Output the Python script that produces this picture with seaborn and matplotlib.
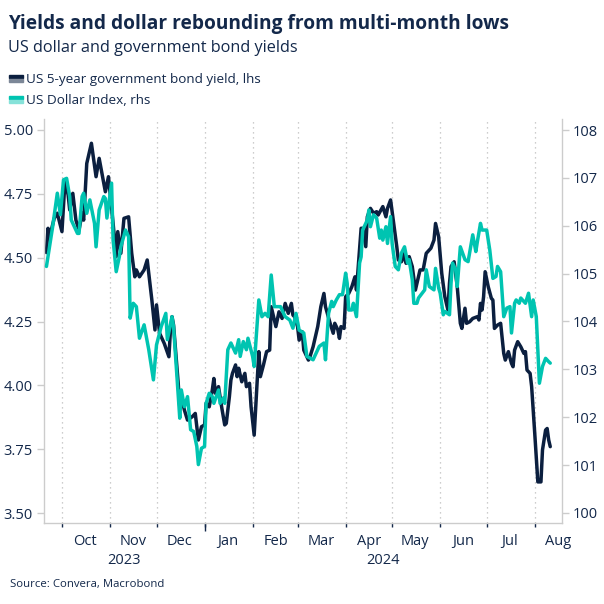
import matplotlib
matplotlib.use("Agg")
import matplotlib.pyplot as plt
import matplotlib.dates as mdates
from matplotlib.patches import Rectangle
from matplotlib.ticker import FormatStrFormatter
from matplotlib.transforms import blended_transform_factory
import seaborn as sns
import pandas as pd

# ---------------- text ----------------
title = "Yields and dollar rebounding from multi-month lows"
subtitle = "US dollar and government bond yields"
legend_labels = ["US 5-year government bond yield, lhs", "US Dollar Index, rhs"]
source = "Source: Convera, Macrobond"
year_labels = ["2023", "2024"]
left_ticks = [3.50, 3.75, 4.00, 4.25, 4.50, 4.75, 5.00]
right_ticks = [100, 101, 102, 103, 104, 105, 106, 107, 108]

# ---------------- data ----------------
yield_dates = [
    "2023-09-21", "2023-09-22", "2023-09-23", "2023-09-26", "2023-09-28",
    "2023-10-01", "2023-10-03", "2023-10-05", "2023-10-06", "2023-10-08",
    "2023-10-10", "2023-10-12", "2023-10-14", "2023-10-15", "2023-10-17",
    "2023-10-20", "2023-10-23", "2023-10-25", "2023-10-28", "2023-10-29",
    "2023-10-31", "2023-11-03", "2023-11-05", "2023-11-06", "2023-11-08",
    "2023-11-10", "2023-11-13", "2023-11-15", "2023-11-17", "2023-11-18",
    "2023-11-20", "2023-11-23", "2023-11-25", "2023-11-28", "2023-11-30",
    "2023-12-01", "2023-12-03", "2023-12-06", "2023-12-09", "2023-12-10",
    "2023-12-11", "2023-12-12", "2023-12-15", "2023-12-16", "2023-12-17",
    "2023-12-19", "2023-12-21", "2023-12-24", "2023-12-26", "2023-12-28",
    "2023-12-30", "2024-01-01", "2024-01-02", "2024-01-04", "2024-01-06",
    "2024-01-07", "2024-01-08", "2024-01-10", "2024-01-12", "2024-01-14",
    "2024-01-15", "2024-01-17", "2024-01-18", "2024-01-19", "2024-01-21",
    "2024-01-22", "2024-01-23", "2024-01-25", "2024-01-27", "2024-01-28",
    "2024-01-30", "2024-01-31", "2024-02-02", "2024-02-04", "2024-02-05",
    "2024-02-06", "2024-02-08", "2024-02-10", "2024-02-12", "2024-02-13",
    "2024-02-16", "2024-02-18", "2024-02-20", "2024-02-22", "2024-02-24",
    "2024-02-26", "2024-02-27", "2024-02-28", "2024-03-01", "2024-03-02",
    "2024-03-04", "2024-03-05", "2024-03-08", "2024-03-09", "2024-03-11",
    "2024-03-14", "2024-03-16", "2024-03-18", "2024-03-19", "2024-03-22",
    "2024-03-24", "2024-03-25", "2024-03-27", "2024-03-28", "2024-03-29",
    "2024-03-31", "2024-04-01", "2024-04-03", "2024-04-05", "2024-04-07",
    "2024-04-08", "2024-04-09", "2024-04-11", "2024-04-12", "2024-04-14",
    "2024-04-15", "2024-04-17", "2024-04-19", "2024-04-21", "2024-04-22",
    "2024-04-25", "2024-04-27", "2024-04-28", "2024-04-30", "2024-05-02",
    "2024-05-04", "2024-05-05", "2024-05-07", "2024-05-08", "2024-05-10",
    "2024-05-12", "2024-05-14", "2024-05-16", "2024-05-19", "2024-05-21",
    "2024-05-23", "2024-05-25", "2024-05-26", "2024-05-28", "2024-05-29",
    "2024-05-31", "2024-06-02", "2024-06-04", "2024-06-06", "2024-06-07",
    "2024-06-08", "2024-06-10", "2024-06-12", "2024-06-14", "2024-06-15",
    "2024-06-17", "2024-06-18", "2024-06-20", "2024-06-22", "2024-06-25",
    "2024-06-26", "2024-06-27", "2024-06-28", "2024-06-29", "2024-06-30",
    "2024-07-02", "2024-07-04", "2024-07-05", "2024-07-06", "2024-07-08",
    "2024-07-10", "2024-07-12", "2024-07-13", "2024-07-15", "2024-07-17",
    "2024-07-18", "2024-07-19", "2024-07-21", "2024-07-23", "2024-07-25",
    "2024-07-26", "2024-07-27", "2024-07-29", "2024-07-30", "2024-08-01",
    "2024-08-03", "2024-08-05", "2024-08-06", "2024-08-08", "2024-08-09",
    "2024-08-10", "2024-08-11",
]
yield_vals = [
    4.52, 4.615, 4.58, 4.654, 4.674,
    4.602, 4.804, 4.745, 4.687, 4.752,
    4.647, 4.608, 4.674, 4.647, 4.869,
    4.948, 4.817, 4.889, 4.791, 4.758,
    4.817, 4.634, 4.504, 4.602, 4.517,
    4.654, 4.660, 4.517, 4.425, 4.452,
    4.425, 4.452, 4.491, 4.334, 4.217,
    4.315, 4.204, 4.164, 4.112, 4.217,
    4.269, 4.236, 4.008, 3.916, 3.955,
    3.903, 3.864, 3.877, 3.890, 3.786,
    3.838, 3.845, 3.930, 3.916, 3.982,
    4.027, 3.969, 3.995, 3.916, 3.845,
    3.851, 3.955, 4.021, 4.047, 4.080,
    4.034, 4.067, 4.014, 4.047, 3.995,
    4.008, 3.916, 3.805, 4.021, 4.132,
    4.034, 4.080, 4.132, 4.138, 4.308,
    4.230, 4.288, 4.262, 4.321, 4.282,
    4.321, 4.275, 4.269, 4.230, 4.177,
    4.210, 4.138, 4.099, 4.112, 4.151,
    4.230, 4.308, 4.360, 4.308, 4.243,
    4.204, 4.243, 4.217, 4.184, 4.230,
    4.223, 4.347, 4.360, 4.386, 4.425,
    4.373, 4.452, 4.615, 4.615, 4.543,
    4.660, 4.693, 4.674, 4.680, 4.667,
    4.700, 4.660, 4.693, 4.726, 4.634,
    4.543, 4.491, 4.484, 4.517, 4.478,
    4.504, 4.465, 4.373, 4.452, 4.452,
    4.517, 4.530, 4.537, 4.569, 4.634,
    4.582, 4.439, 4.347, 4.295, 4.400,
    4.465, 4.484, 4.386, 4.243, 4.223,
    4.302, 4.243, 4.249, 4.262, 4.269,
    4.256, 4.321, 4.295, 4.347, 4.445,
    4.386, 4.341, 4.334, 4.223, 4.236,
    4.243, 4.125, 4.099, 4.132, 4.086,
    4.073, 4.138, 4.171, 4.151, 4.125,
    4.132, 4.060, 4.047, 3.995, 3.812,
    3.622, 3.622, 3.747, 3.825, 3.831,
    3.786, 3.760,
]

usd_dates = [
    "2023-09-21", "2023-09-25", "2023-09-28", "2023-09-30", "2023-10-02",
    "2023-10-04", "2023-10-06", "2023-10-07", "2023-10-08", "2023-10-11",
    "2023-10-12", "2023-10-14", "2023-10-15", "2023-10-17", "2023-10-19",
    "2023-10-22", "2023-10-23", "2023-10-25", "2023-10-28", "2023-10-29",
    "2023-10-30", "2023-11-02", "2023-11-03", "2023-11-05", "2023-11-07",
    "2023-11-08", "2023-11-11", "2023-11-13", "2023-11-14", "2023-11-16",
    "2023-11-18", "2023-11-20", "2023-11-23", "2023-11-26", "2023-11-29",
    "2023-12-01", "2023-12-04", "2023-12-07", "2023-12-08", "2023-12-11",
    "2023-12-12", "2023-12-14", "2023-12-16", "2023-12-17", "2023-12-19",
    "2023-12-21", "2023-12-23", "2023-12-25", "2023-12-27", "2023-12-28",
    "2023-12-30", "2024-01-01", "2024-01-02", "2024-01-04", "2024-01-06",
    "2024-01-07", "2024-01-10", "2024-01-11", "2024-01-13", "2024-01-14",
    "2024-01-16", "2024-01-18", "2024-01-21", "2024-01-23", "2024-01-24",
    "2024-01-26", "2024-01-28", "2024-01-29", "2024-02-01", "2024-02-02",
    "2024-02-05", "2024-02-07", "2024-02-09", "2024-02-11", "2024-02-13",
    "2024-02-15", "2024-02-19", "2024-02-22", "2024-02-25", "2024-02-27",
    "2024-02-29", "2024-03-02", "2024-03-05", "2024-03-07", "2024-03-11",
    "2024-03-15", "2024-03-18", "2024-03-19", "2024-03-20", "2024-03-21",
    "2024-03-23", "2024-03-24", "2024-03-26", "2024-03-28", "2024-03-30",
    "2024-04-01", "2024-04-02", "2024-04-03", "2024-04-05", "2024-04-06",
    "2024-04-08", "2024-04-10", "2024-04-11", "2024-04-12", "2024-04-15",
    "2024-04-16", "2024-04-17", "2024-04-19", "2024-04-21", "2024-04-23",
    "2024-04-24", "2024-04-25", "2024-04-27", "2024-04-28", "2024-04-30",
    "2024-05-01", "2024-05-03", "2024-05-05", "2024-05-07", "2024-05-09",
    "2024-05-11", "2024-05-12", "2024-05-14", "2024-05-15", "2024-05-17",
    "2024-05-18", "2024-05-22", "2024-05-23", "2024-05-25", "2024-05-28",
    "2024-05-29", "2024-05-31", "2024-06-01", "2024-06-03", "2024-06-04",
    "2024-06-07", "2024-06-08", "2024-06-09", "2024-06-11", "2024-06-12",
    "2024-06-14", "2024-06-17", "2024-06-19", "2024-06-21", "2024-06-22",
    "2024-06-24", "2024-06-25", "2024-06-27", "2024-06-28", "2024-07-01",
    "2024-07-03", "2024-07-05", "2024-07-07", "2024-07-08", "2024-07-10",
    "2024-07-12", "2024-07-14", "2024-07-16", "2024-07-17", "2024-07-19",
    "2024-07-20", "2024-07-22", "2024-07-23", "2024-07-26", "2024-07-28",
    "2024-07-30", "2024-07-31", "2024-08-02", "2024-08-04", "2024-08-06",
    "2024-08-08", "2024-08-10", "2024-08-11",
]
usd_vals = [
    105.15, 105.98, 106.68, 106.23, 106.96,
    106.99, 106.61, 106.12, 106.05, 105.84,
    105.84, 106.61, 106.68, 106.26, 106.54,
    106.05, 105.56, 106.33, 106.61, 106.57,
    106.16, 106.89, 105.70, 105.04, 105.35,
    105.56, 105.91, 105.77, 104.07, 104.38,
    104.31, 103.65, 103.93, 103.41, 102.78,
    103.51, 103.89, 104.17, 103.62, 104.10,
    103.89, 102.92, 101.98, 102.57, 102.22,
    102.43, 101.74, 101.70, 101.39, 101.01,
    101.35, 101.39, 102.29, 102.50, 102.43,
    102.29, 102.57, 102.29, 102.40, 102.29,
    103.41, 103.55, 103.34, 103.62, 103.27,
    103.58, 103.41, 103.65, 103.27, 103.06,
    104.45, 104.10, 104.17, 104.10, 104.97,
    104.31, 104.31, 104.10, 104.03, 103.86,
    104.17, 103.82, 103.76, 103.27, 103.20,
    103.48, 103.55, 103.20, 103.69, 104.17,
    104.42, 104.31, 104.45, 104.56, 104.56,
    105.01, 104.80, 104.24, 104.24, 104.38,
    104.10, 105.22, 105.35, 105.91, 106.12,
    106.33, 105.98, 106.23, 106.16, 105.74,
    105.91, 105.70, 105.98, 105.63, 106.19,
    105.63, 105.15, 105.08, 105.43, 105.56,
    105.22, 105.29, 104.87, 104.38, 104.38,
    104.49, 104.66, 105.08, 104.73, 104.66,
    105.11, 104.70, 104.59, 104.14, 104.21,
    104.14, 104.80, 105.22, 105.08, 104.73,
    105.56, 105.29, 105.25, 105.63, 105.81,
    105.46, 105.67, 106.05, 105.91, 105.91,
    105.49, 104.90, 104.94, 105.15, 105.04,
    104.10, 104.28, 104.31, 103.76, 104.38,
    104.45, 104.38, 104.49, 104.38, 104.59,
    104.10, 104.45, 104.10, 102.71, 103.06,
    103.23, 103.16, 103.13,
]

x_start = "2023-09-19 10:00"
x_end = "2024-08-18 14:00"

# ---------------- style ----------------
sns.set_theme(style="white")
plt.rcParams["font.family"] = ["Open Sans", "DejaVu Sans"]

NAVY = "#0b1f3f"
NAVY_LIGHT = "#7c8797"
TEAL = "#00c4b1"
TEAL_LIGHT = "#86e2d9"
TXT = "#13284a"
SPINE = "#cccccc"
GRIDC = "#bdbdbd"

W = H = 604
fig = plt.figure(figsize=(6.04, 6.04), dpi=100)
fig.patch.set_facecolor("white")
ax = fig.add_axes([44 / W, (H - 523) / H, 518 / W, 404 / H])
ax2 = ax.twinx()

df_yield = pd.DataFrame({"date": pd.to_datetime(yield_dates), "value": yield_vals})
df_usd = pd.DataFrame({"date": pd.to_datetime(usd_dates), "value": usd_vals})

sns.lineplot(data=df_yield, x="date", y="value", ax=ax, color=NAVY,
             linewidth=2.5, solid_joinstyle="round", solid_capstyle="round")
sns.lineplot(data=df_usd, x="date", y="value", ax=ax2, color=TEAL,
             linewidth=2.5, solid_joinstyle="round", solid_capstyle="round")

xmin, xmax = pd.Timestamp(x_start), pd.Timestamp(x_end)
ax.set_xlim(xmin, xmax)
ax.set_ylim(3.461, 5.043)
ax2.set_ylim(99.79, 108.23)
for a in (ax, ax2):
    a.set_xlabel("")
    a.set_ylabel("")

# spines
for s in ("top", "right"):
    ax.spines[s].set_visible(False)
for s in ("left", "bottom"):
    ax.spines[s].set_color(SPINE)
    ax.spines[s].set_linewidth(1.0)
for s in ("top", "left", "bottom"):
    ax2.spines[s].set_visible(False)
ax2.spines["right"].set_color(SPINE)
ax2.spines["right"].set_linewidth(1.0)

# y ticks
ax.set_yticks(left_ticks)
ax.yaxis.set_major_formatter(FormatStrFormatter("%.2f"))
ax.tick_params(axis="y", left=True, length=5, width=1, color=SPINE,
               labelcolor=TXT, labelsize=10.5, pad=3)
ax2.set_yticks(right_ticks)
ax2.tick_params(axis="y", right=True, length=5, width=1, color=SPINE,
                labelcolor=TXT, labelsize=10.5, pad=3)

# x ticks: month starts (ticks + dotted grid), month labels mid-month
ax.xaxis.set_major_locator(mdates.MonthLocator())
ax.xaxis.set_major_formatter(plt.NullFormatter())
ax.xaxis.set_minor_locator(mdates.MonthLocator(bymonthday=16))
ax.xaxis.set_minor_formatter(mdates.DateFormatter("%b"))
ax.tick_params(axis="x", which="major", bottom=True, length=3, width=1,
               color=TXT)
ax.tick_params(axis="x", which="minor", bottom=True, length=0,
               labelcolor=TXT, labelsize=10.5, pad=8)
ax.grid(True, which="major", axis="x", color=GRIDC, linestyle=(0, (1, 3)),
        linewidth=0.9)
ax.grid(False, axis="y")
ax2.grid(False)

# longer tick at year boundary
sec = ax.secondary_xaxis("bottom")
sec.xaxis.set_major_locator(mdates.YearLocator())
sec.xaxis.set_major_formatter(plt.NullFormatter())
sec.tick_params(axis="x", length=6, width=1, color=TXT)
sec.spines["bottom"].set_visible(False)

# year labels centred on their spans
trans = blended_transform_factory(ax.transData, ax.transAxes)
jan1 = pd.Timestamp("2024-01-01")
year_spans = [(xmin, jan1), (jan1, xmax)]
for lab, (a0, a1) in zip(year_labels, year_spans):
    mid = mdates.date2num(a0) + (mdates.date2num(a1) - mdates.date2num(a0)) / 2
    ax.text(mid, -0.094, lab, transform=trans, ha="center", va="center",
            fontsize=10.5, color=TXT)

# titles
fig.text(8 / W, 1 - 29 / H, title, fontsize=13.8, fontweight="bold",
         color=TXT, ha="left", va="baseline")
fig.text(8 / W, 1 - 52 / H, subtitle, fontsize=11.7, color=TXT,
         ha="left", va="baseline")

# legend (two-tone swatches)
legend_cols = [(NAVY, NAVY_LIGHT), (TEAL, TEAL_LIGHT)]
for i, (lab, (c1, c2)) in enumerate(zip(legend_labels, legend_cols)):
    yc = 79 + 21 * i
    fig.patches.append(Rectangle((9 / W, 1 - (yc - 1) / H), 14 / W, 3 / H,
                                 transform=fig.transFigure, color=c1))
    fig.patches.append(Rectangle((9 / W, 1 - (yc + 3) / H), 14 / W, 3 / H,
                                 transform=fig.transFigure, color=c2))
    fig.text(26 / W, 1 - yc / H, lab, fontsize=9.7, color=TXT,
             ha="left", va="center")

fig.text(10 / W, 1 - 585 / H, source, fontsize=8.2, color=TXT,
         ha="left", va="center")

fig.savefig("out.png", dpi=100, facecolor="white")
